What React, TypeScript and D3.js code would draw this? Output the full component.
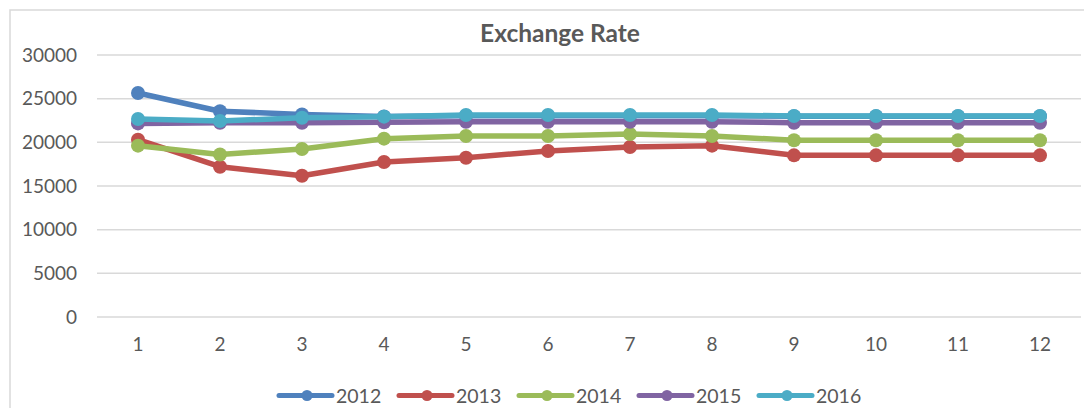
import React from 'react';
import * as d3 from 'd3';

const months = [1, 2, 3, 4, 5, 6, 7, 8, 9, 10, 11, 12];
const seriesNames = ['2012', '2013', '2014', '2015', '2016'];
const rate2012 = [25650, 23560, 23200, 22950, 23050, 23050, 23050, 23050, 23000, 23000, 23000, 23000];
const rate2013 = [20300, 17210, 16180, 17750, 18240, 19010, 19470, 19620, 18510, 18510, 18510, 18510];
const rate2014 = [19620, 18600, 19240, 20420, 20730, 20730, 20960, 20730, 20230, 20230, 20230, 20230];
const rate2015 = [22170, 22250, 22250, 22300, 22360, 22360, 22360, 22360, 22250, 22250, 22250, 22250];
const rate2016 = [22670, 22440, 22820, 22940, 23130, 23130, 23130, 23130, 23015, 23015, 23015, 23015];
const yTicks = [0, 5000, 10000, 15000, 20000, 25000, 30000];

const colors = ['#4F81BD', '#C0504D', '#9BBB59', '#8064A2', '#4BACC6'];
const allSeries = [rate2012, rate2013, rate2014, rate2015, rate2016];

const W = 1084;
const H = 408;
const font = 'Lato, "Open Sans", sans-serif';

export default function App() {
  // plot area
  const left = 97, right = 1081, top = 55, bottom = 317;

  const x = d3.scaleBand<number>().domain(months).range([left, right]);
  const y = d3.scaleLinear().domain([0, 30000]).range([bottom, top]);
  const cx = (m: number) => (x(m) as number) + x.bandwidth() / 2;

  const line = d3.line<number>()
    .x((d, i) => cx(months[i]))
    .y(d => y(d));

  const legendX = d3.scaleBand<string>().domain(seriesNames).range([277, 277 + 120 * 5]);
  const legendY = 395.5;

  return (
    <svg width={W} height={H} style={{ position: 'absolute', left: 0, top: 0, background: '#fff' }}>
      {/* outer chart border */}
      <rect x={10} y={10} width={1100} height={420} fill="#fff" stroke="#d9d9d9" strokeWidth={1.5} />

      <text x={560} y={42} textAnchor="middle" fontFamily={font} fontWeight="bold" fontSize={24.5} fill="#595959">
        Exchange Rate
      </text>

      {/* gridlines */}
      {yTicks.map(t => (
        <g key={t}>
          <line x1={left} x2={right} y1={y(t)} y2={y(t)} stroke="#d9d9d9" strokeWidth={1.5} />
          <text x={77} y={y(t)} dy="0.35em" textAnchor="end" fontFamily={font} fontSize={19} fill="#595959">{t}</text>
        </g>
      ))}

      {/* x labels */}
      {months.map(m => (
        <text key={m} x={cx(m)} y={351} textAnchor="middle"
          fontFamily={font} fontSize={19} fill="#595959">{m}</text>
      ))}

      {/* series */}
      {allSeries.map((s, si) => (
        <g key={si}>
          <path d={line(s) || ''} fill="none" stroke={colors[si]} strokeWidth={5.5} strokeLinejoin="round" strokeLinecap="round" />
          {s.map((v, i) => (
            <circle key={i} cx={cx(months[i])} cy={y(v)} r={7} fill={colors[si]} />
          ))}
        </g>
      ))}

      {/* legend */}
      {seriesNames.map((n, i) => {
        const lx = legendX(n) as number;
        return (
          <g key={n}>
            <line x1={lx + 2} x2={lx + 55} y1={legendY} y2={legendY} stroke={colors[i]} strokeWidth={5} strokeLinecap="round" />
            <circle cx={lx + 30} cy={legendY} r={5.5} fill={colors[i]} />
            <text x={lx + 59} y={legendY} dy="0.36em" fontFamily={font} fontSize={19.5} fill="#595959">{n}</text>
          </g>
        );
      })}
    </svg>
  );
}
